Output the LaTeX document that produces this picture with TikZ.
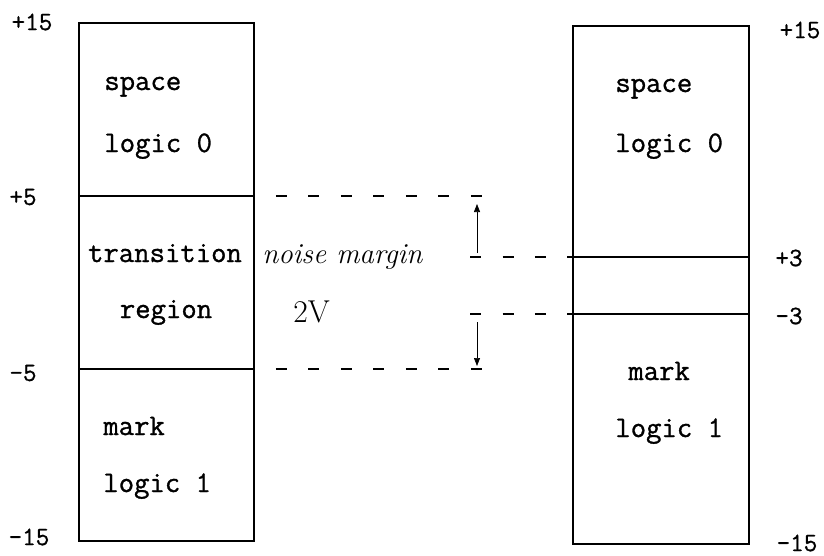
\documentclass[tikz,border=0pt]{standalone}
\usepackage{fontspec}
\setmonofont{Latin Modern Mono}[FakeBold=1.0]
\usepackage{tikz}
\usetikzlibrary{arrows.meta,positioning}
\tikzset{
  levelbox/.style={draw,line width=1.1pt},
  levelline/.style={line width=1.1pt},
  marginline/.style={line width=1.1pt,dash pattern=on 0.22cm off 0.43cm,dash phase=0.21cm},
  gaparrow/.style={-{Triangle[length=0.16cm,width=0.12cm]},line width=0.4pt},
  typed/.style={font=\fontsize{17}{20}\selectfont\ttfamily,inner sep=0pt,anchor=base west},
  voltlabel/.style={font=\fontsize{15}{18}\selectfont\ttfamily,inner sep=0pt},
  handnote/.style={font=\fontsize{16.5}{20}\selectfont\itshape,inner sep=0pt,anchor=base west}
}

\begin{document}
\begin{tikzpicture}[x=0.02cm,y=-0.02cm]
\useasboundingbox (0,0) rectangle (824,555);
% transmitter levels (left)
\draw[levelbox] (79,23) coordinate (ltop) rectangle (254,541) coordinate (lbot);
\draw[levelline] (79,196) coordinate (lhiW) -- (254,196) coordinate (lhi);
\draw[levelline] (79,369) coordinate (lloW) -- (254,369) coordinate (llo);
% receiver levels (right)
\draw[levelbox] (573,26) coordinate (rtop) rectangle (749,544) coordinate (rbot);
\draw[levelline] (573,257) coordinate (rhi) -- (749,257) coordinate (rhiE);
\draw[levelline] (573,314) coordinate (rlo) -- (749,314) coordinate (rloE);

\node[typed] (lspace) at (104,90) {space};
\node[typed] (llogic0) at (104,152) {logic 0};
\node[typed,anchor=base] (ltrans) at (165,262) {transition};
\node[typed,anchor=base] (lregion) at (166,318) {region};
\node[typed] (lmark) at (103,435) {mark};
\node[typed] (llogic1) at (103,492) {logic 1};

\node[typed] (rspace) at (615,92) {space};
\node[typed] (rlogic0) at (615,152) {logic 0};
\node[typed] (rmark) at (628,380) {mark};
\node[typed] (rlogic1) at (615,437) {logic 1};

\foreach \t/\x/\y/\n in {+15/32/22/lp15,+5/23/197/lp5,-5/23/373/lm5,-15/29/537/lm15,
                         +15/800/30/rp15,+3/789/258/rp3,-3/789/316/rm3,-15/797/543/rm15}
  \node[voltlabel] (\n) at (\x,\y) {\t};

% noise margin
\coordinate (mhi) at (485,196);
\coordinate (mlo) at (485,369);
\coordinate (nhi) at (470,257);
\coordinate (nlo) at (470,314);
\draw[marginline] (lhi) -- (mhi);
\draw[marginline] (llo) -- (mlo);
\draw[marginline,dash phase=0cm] (nhi) -- (rhi);
\draw[marginline,dash phase=0cm] (nlo) -- (rlo);
\draw[gaparrow] (477,253) coordinate (ahi) -- (477,204);
\draw[gaparrow] (477,322) coordinate (alo) -- (477,366);

\node[handnote] (noise) at (262,263) {noise margin};
\node[anchor=base west,inner sep=0pt,font=\fontsize{18}{20}\selectfont] (twov) at (293,322) {2V};
\end{tikzpicture}
\end{document}
